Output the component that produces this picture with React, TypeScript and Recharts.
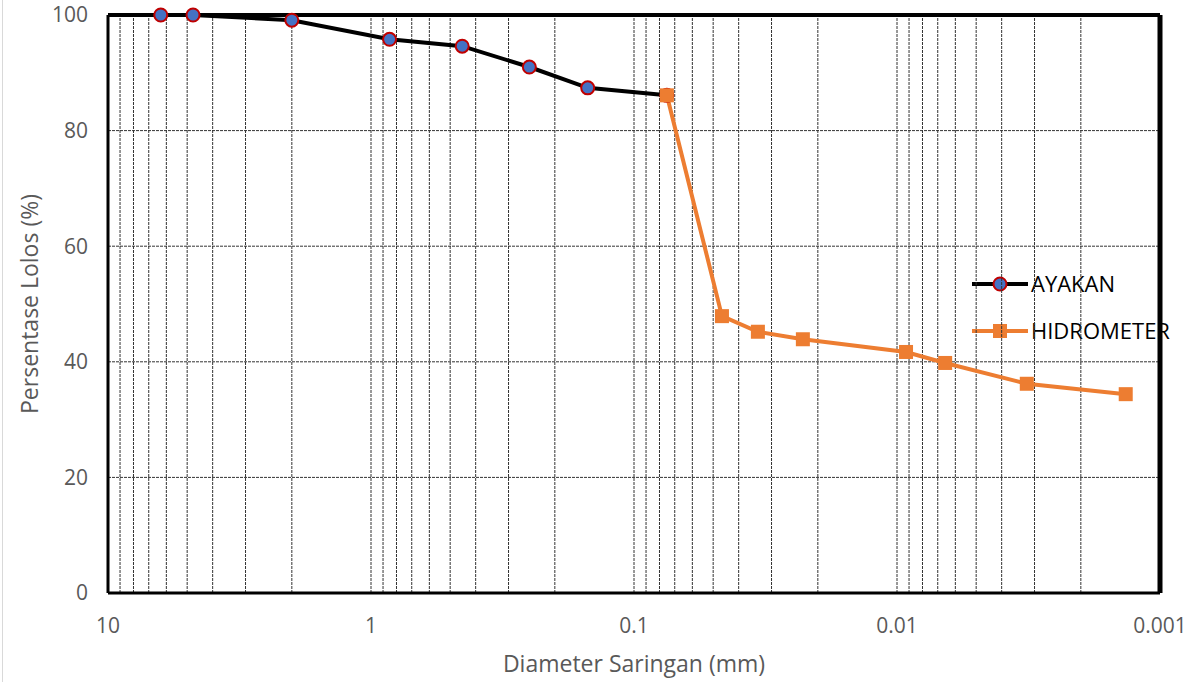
import React from "react";
import {
  LineChart,
  Line,
  XAxis,
  YAxis,
  CartesianGrid,
  ReferenceLine,
} from "recharts";

const ayakanSize = [6.3, 4.75, 2.0, 0.85, 0.45, 0.25, 0.15, 0.075];
const ayakanPass = [100, 100, 99.1, 95.8, 94.6, 91.0, 87.4, 86.1];

const hidroSize = [0.075, 0.0463, 0.0338, 0.0228, 0.00924, 0.00656, 0.00321, 0.00135];
const hidroPass = [86.1, 47.9, 45.2, 43.9, 41.7, 39.8, 36.2, 34.4];

const xTicks = [10, 1, 0.1, 0.01, 0.001];
const yTicks = [0, 20, 40, 60, 80, 100];
const gridX = [
  9, 8, 7, 6, 5, 4, 3, 2, 1,
  0.9, 0.8, 0.7, 0.6, 0.5, 0.4, 0.3, 0.2, 0.1,
  0.09, 0.08, 0.07, 0.06, 0.05, 0.04, 0.03, 0.02, 0.01,
  0.009, 0.008, 0.007, 0.006, 0.005, 0.004, 0.003, 0.002,
];

const seriesNames = ["AYAKAN", "HIDROMETER"];

const ayakanData = ayakanSize.map((d, i) => ({ d, p: ayakanPass[i] }));
const hidroData = hidroSize.map((d, i) => ({ d, p: hidroPass[i] }));

const FONT = "'Open Sans', 'Liberation Sans', sans-serif";
const GRID = "#333";

function CircleDot(props: any) {
  const { cx, cy, index } = props;
  return <circle key={index} cx={cx} cy={cy} r={6.5} fill='#4472C4' stroke='#C00000' strokeWidth={2} />;
}

function SquareDot(props: any) {
  const { cx, cy, index } = props;
  return <rect key={index} x={cx - 7} y={cy - 7} width={14} height={14} fill='#ED7D31' />;
}

function LegendBox() {
  return (
    <svg width={240} height={90} style={{ position: "absolute", left: 970, top: 268, overflow: "visible" }}>
      <line x1={2} y1={16} x2={58} y2={16} stroke='#000' strokeWidth={4} />
      <circle cx={30} cy={16} r={6.5} fill='#4472C4' stroke='#C00000' strokeWidth={2} />
      <text x={61} y={24} fontSize={22} fill='#000' fontFamily={FONT}>{seriesNames[0]}</text>
      <line x1={2} y1={63} x2={58} y2={63} stroke='#ED7D31' strokeWidth={4} />
      <rect x={23} y={56} width={14} height={14} fill='#ED7D31' />
      <text x={61} y={71} fontSize={22} fill='#000' fontFamily={FONT}>{seriesNames[1]}</text>
    </svg>
  );
}

export default function App() {
  return (
    <div style={{ width: 1191, height: 682, position: "relative", background: "#fff" }}>
      <style>{"body{margin:0}"}</style>
      <div style={{ position: "absolute", left: 2, top: 0, width: 1, height: 682, background: "#d9d9d9" }} />
      <LegendBox />
      <div style={{ position: "absolute", left: 0, top: 0 }}>
        <LineChart width={1191} height={682} margin={{ top: 15, right: 31, left: 28, bottom: 0 }}>
          <CartesianGrid vertical={false} stroke={GRID} strokeDasharray='3 1' />
          {gridX.map((v) => (
            <ReferenceLine key={v} x={v} stroke={GRID} strokeDasharray='3 1' />
          ))}
          <XAxis
            dataKey='d'
            type='number'
            scale='log'
            domain={[0.001, 10]}
            reversed
            ticks={xTicks}
            allowDataOverflow
            height={89}
            tickLine={false}
            tickMargin={19}
            axisLine={{ stroke: "#000", strokeWidth: 3 }}
            tick={{ fill: "#595959", fontSize: 21, fontFamily: FONT }}
            tickFormatter={(v: number) => String(v)}
            label={{ value: "Diameter Saringan (mm)", position: "insideBottom", offset: 10, fill: "#595959", fontSize: 23, fontFamily: FONT }}
          />
          <YAxis
            type='number'
            domain={[0, 100]}
            ticks={yTicks}
            width={80}
            tickLine={false}
            tickMargin={14}
            axisLine={{ stroke: "#000", strokeWidth: 3 }}
            tick={{ fill: "#595959", fontSize: 21, fontFamily: FONT }}
            label={{ value: "Persentase Lolos (%)", angle: -90, position: "insideLeft", offset: 2, style: { textAnchor: "middle" }, fill: "#595959", fontSize: 23, fontFamily: FONT }}
          />
          <ReferenceLine y={100} stroke='#000' strokeWidth={4} />
          <ReferenceLine x={0.001} stroke='#000' strokeWidth={5} />
          <Line
            data={ayakanData}
            dataKey='p'
            name={seriesNames[0]}
            stroke='#000'
            strokeWidth={4}
            dot={<CircleDot />}
            isAnimationActive={false}
          />
          <Line
            data={hidroData}
            dataKey='p'
            name={seriesNames[1]}
            stroke='#ED7D31'
            strokeWidth={4}
            dot={<SquareDot />}
            isAnimationActive={false}
          />
        </LineChart>
      </div>
    </div>
  );
}
